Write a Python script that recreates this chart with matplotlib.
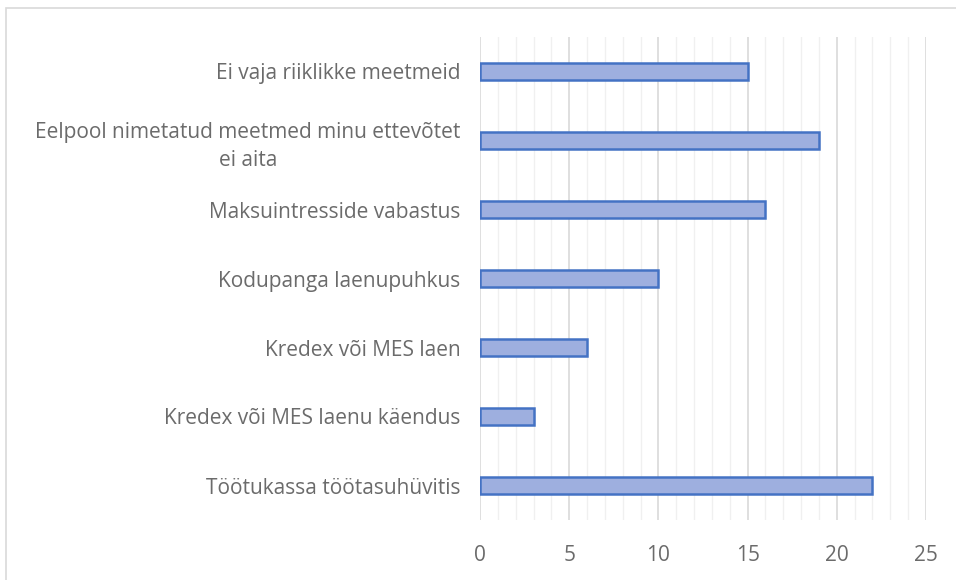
import matplotlib.pyplot as plt
from matplotlib.patches import Rectangle

categories = [
    "Töötukassa töötasuhüvitis",
    "Kredex või MES laenu käendus",
    "Kredex või MES laen",
    "Kodupanga laenupuhkus",
    "Maksuintresside vabastus",
    "Eelpool nimetatud meetmed minu ettevõtet\nei aita",
    "Ei vaja riiklikke meetmeid",
]
values = [22, 3, 6, 10, 16, 19, 15]
x_ticks = [0, 5, 10, 15, 20, 25]

plt.rcParams["font.family"] = ["Open Sans", "DejaVu Sans"]

fig = plt.figure(figsize=(9.56, 5.8), dpi=100)
ax = fig.add_axes([480 / 956, 1 - 520 / 580, 446 / 956, 483 / 580])

# chart frame, only top and left edges show
fig.patches.append(Rectangle((6 / 956, -0.1), 1.2, 1.1 - 8 / 580, transform=fig.transFigure,
                             fill=False, edgecolor="#d9d9d9", linewidth=1.2))

ypos = list(range(len(categories)))
ax.barh(ypos, values, height=0.24, color="#9eafdf", edgecolor="#4472c4", linewidth=1.8, zorder=3)

ax.set_xlim(0, 25)
ax.set_ylim(-0.5, len(categories) - 0.5)
ax.set_xticks(x_ticks)
ax.set_xticks(range(0, 26), minor=True)
ax.grid(axis="x", which="major", color="#d9d9d9", linewidth=1.2, zorder=0)
ax.grid(axis="x", which="minor", color="#f0f0f0", linewidth=1.0, zorder=0)
ax.set_yticks(ypos)
ax.set_yticklabels(categories, multialignment="center", linespacing=1.45)
ax.tick_params(axis="both", which="both", length=0, labelsize=15, colors="#6b6b6b")
ax.tick_params(axis="y", pad=14)
ax.tick_params(axis="x", pad=18)
for s in ax.spines.values():
    s.set_visible(False)

fig.savefig("out.png", dpi=100)
